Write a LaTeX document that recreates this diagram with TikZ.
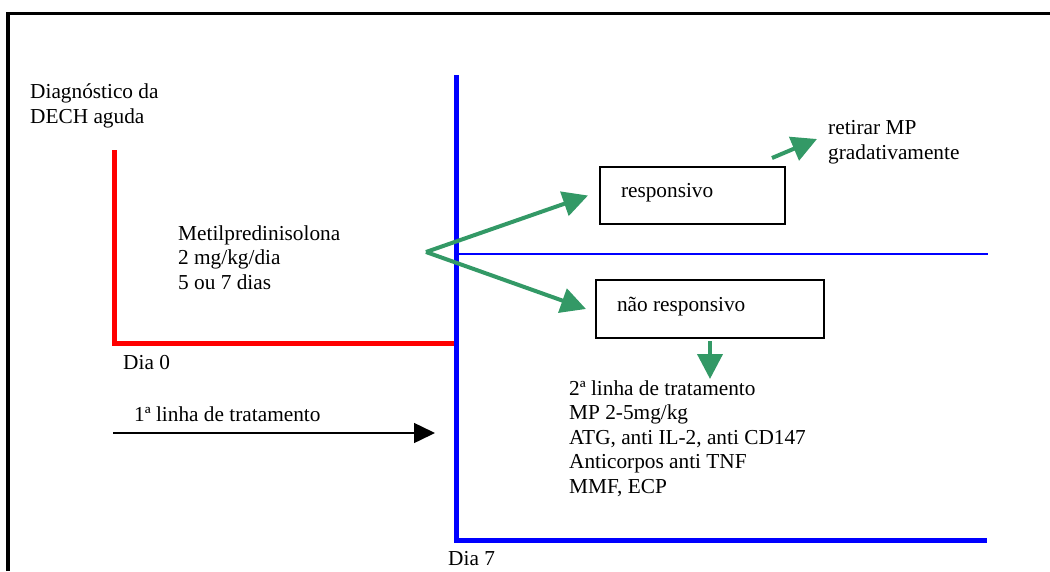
\documentclass[tikz,border=0pt]{standalone}
\usepackage{fontspec}
\setmainfont{Liberation Serif}
\usetikzlibrary{arrows.meta,calc}
\definecolor{mygreen}{RGB}{51,153,102}
\begin{document}
\begin{tikzpicture}[x=1pt,y=-1pt,
  lbl/.style={inner sep=0pt,anchor=base west,align=left,font=\fontsize{21.3}{24.5}\selectfont},
  box/.style={draw,line width=2pt,inner xsep=21pt,inner ysep=0pt,align=flush left,anchor=north west,
     text height=12pt,text depth=7.5pt,font=\fontsize{21.3}{24.5}\selectfont},
  garrow/.style={draw=mygreen,line width=4pt,-{Triangle[length=25pt,width=25pt]},fill=mygreen},
  karrow/.style={draw=black,line width=1.5pt,-{Triangle[length=21pt,width=20pt]}}
]
\useasboundingbox (0,0) rectangle (1050,571);
% border
\draw[line width=3.5pt,line join=miter] (8,571) -- (8,13.5) -- (1050,13.5);
% red line
\draw[red,line width=5pt,line join=miter] (114,150) -- (114,343) -- (455,343);
% blue lines
\draw[blue,line width=5pt,line join=miter] (456,75) -- (456,540) -- (987,540);
\draw[blue,line width=2pt] (458,254) -- (988,254);
% texts (base anchor = baseline of the last line)
\node[lbl] (diag) at (30,123) {Diagnóstico da\\DECH aguda};
\node[lbl] (metil) at (178,289) {Metilpredinisolona\\2 mg/kg/dia\\5 ou 7 dias};
\node[lbl] (dia0) at (123,369) {Dia 0};
\node[lbl] (linha1) at (134,421.7) {1ª linha de tratamento};
\node[lbl] (retirar) at (828,159) {retirar MP\\gradativamente};
\node[lbl] (linha2) at (569,493) {2ª linha de tratamento\\MP 2-5mg/kg\\ATG, anti IL-2, anti CD147\\Anticorpos anti TNF\\MMF, ECP};
\node[lbl] (dia7) at (448,565) {Dia 7};
% boxes
\node[box,minimum width=185pt,minimum height=57pt,text width=143pt] (resp) at (599,166) {responsivo};
\node[box,minimum width=228pt,minimum height=58pt,text width=186pt] (nresp) at (595,279) {não responsivo};
% arrows
\coordinate (fork) at (426,252);
\draw[garrow] (fork) -- ($(resp.west)+(-11,0)$);
\draw[garrow] (fork) -- ($(nresp.west)+(-9,0)$);
\coordinate (rtail) at (772,158);
\draw[garrow] (rtail) -- ($(retirar.base west)+(-11,-20)$);
\draw[garrow] ($(nresp.south)+(0,2)$) -- ($(nresp.south)+(0,40)$);
\coordinate (ktail) at (113,433);
\draw[karrow] (ktail) -- (435,433);
\end{tikzpicture}
\end{document}
